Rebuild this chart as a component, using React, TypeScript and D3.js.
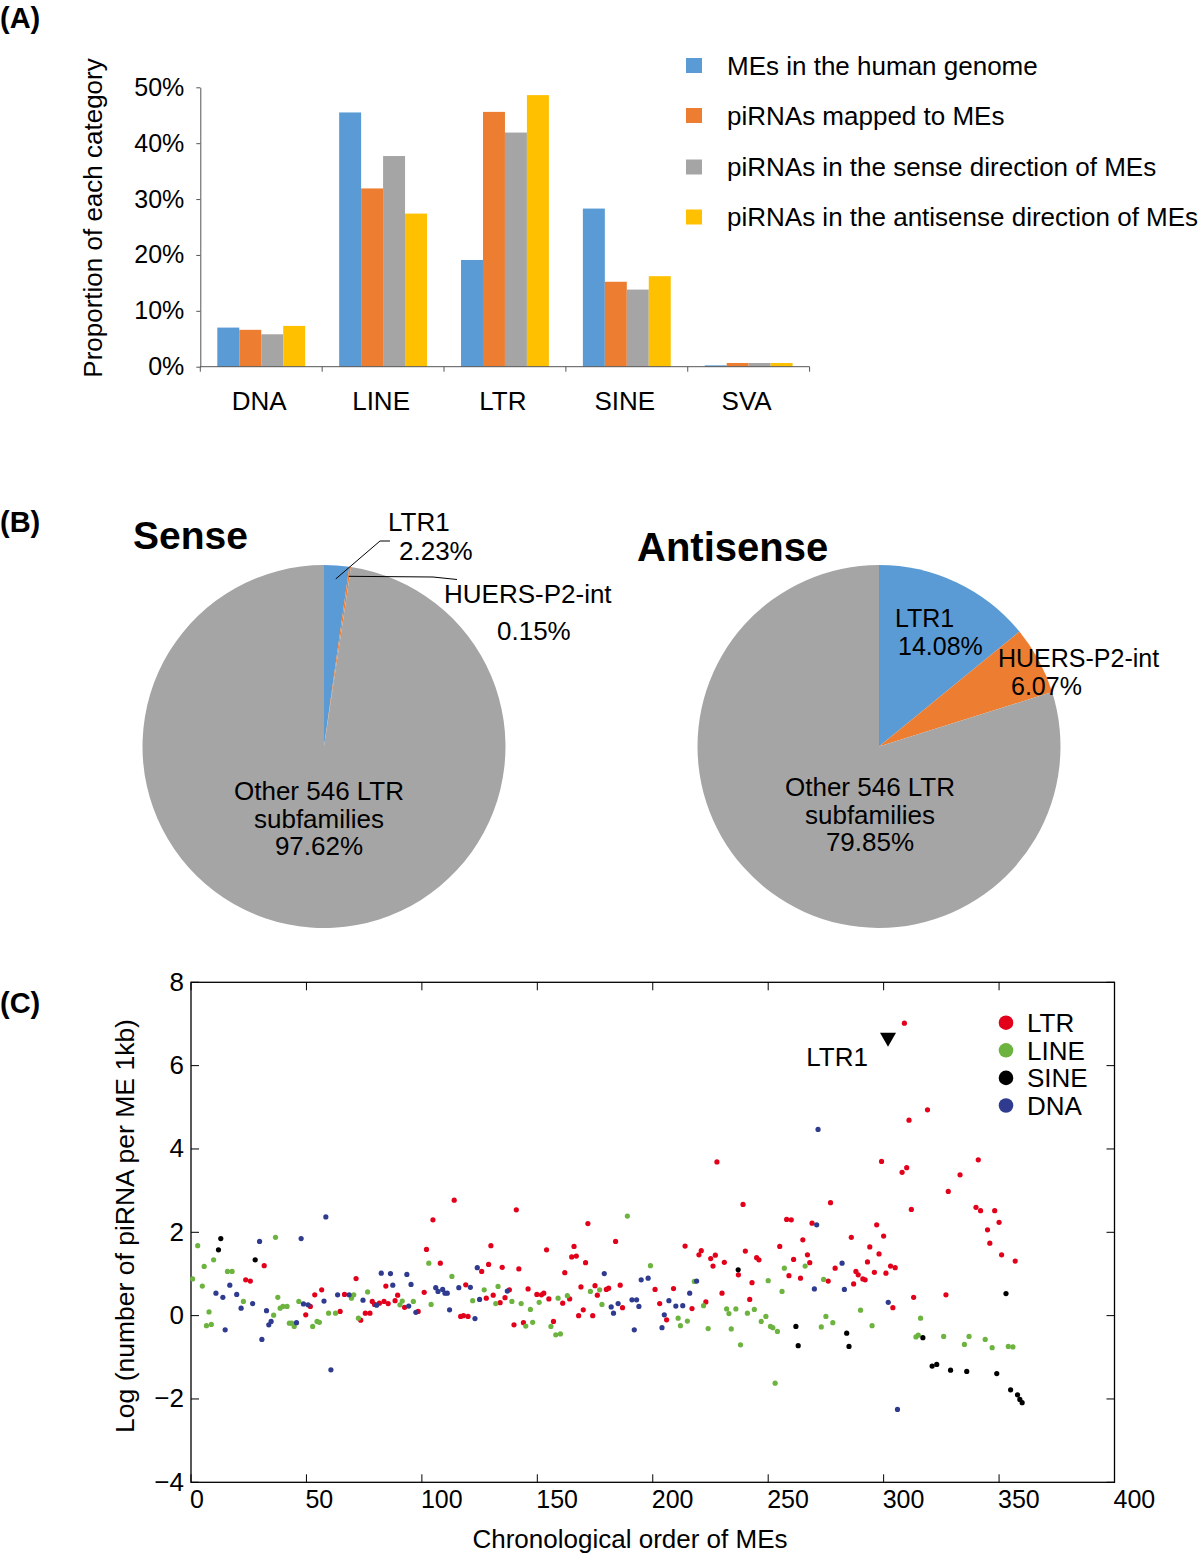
import React, { useRef, useEffect } from 'react';
import * as d3 from 'd3';

const FONT = '"Liberation Sans", Arial, Helvetica, sans-serif';

// ---- Panel A: proportion of each ME category ----
const categories = ['DNA', 'LINE', 'LTR', 'SINE', 'SVA'];
const barSeries = [
  'MEs in the human genome',
  'piRNAs mapped to MEs',
  'piRNAs in the sense direction of MEs',
  'piRNAs in the antisense direction of MEs',
];
const meGenome = [7.0, 45.5, 19.1, 28.3, 0.24];
const piMapped = [6.6, 31.9, 45.6, 15.2, 0.66];
const piSense = [5.8, 37.7, 41.9, 13.8, 0.66];
const piAntisense = [7.3, 27.4, 48.6, 16.2, 0.66];
const barColors = ['#5B9BD5', '#ED7D31', '#A5A5A5', '#FFC000'];
const pctTicks = [0, 10, 20, 30, 40, 50];

// ---- Panel B: LTR subfamily shares ----
const pieNames = ['LTR1', 'HUERS-P2-int', 'Other 546 LTR subfamilies'];
const senseShare = [2.23, 0.15, 97.62];
const antisenseShare = [14.08, 6.07, 79.85];
const pieColors = ['#5B9BD5', '#ED7D31', '#A5A5A5'];

// ---- Panel C: log piRNA per ME 1kb vs chronological order ----
const ltrPts: [number, number][] = [
  [23.7, 0.86], [25.7, 0.83], [31.7, 1.2], [49.7, 0.02], [51.7, 0.22], [53.6, 0.5], [56.6, 0.62],
  [64.6, 0.1], [66.5, 0.51], [71.5, 0.89], [73.5, -0.11], [75.5, 0.06], [77.5, 0.06], [78.5, 0.34],
  [79.5, 0.27], [81.6, 0.3], [83.6, 0.34], [84.4, 0.71], [85.4, 0.29], [88.4, 0.36], [89.5, 0.49],
  [92.5, 0.2], [98.4, 0.1],
  [101, 0.56], [102, 1.59], [104.8, 2.3], [108, 1.26], [114, 2.77], [119, 0.74], [116.8, -0.02],
  [118, 0.0], [120, -0.02], [125.9, 1.06], [127.9, 0.42], [128.9, 1.23], [129.9, 1.68], [130.9, 0.49],
  [133.9, 0.31], [134.8, 1.16], [136, 0.43], [137.9, 0.62], [139.9, -0.22], [140.9, 2.54], [142, 1.12],
  [144, -0.17], [146, 0.64], [149.8, 0.51], [151.8, 0.5], [152.8, 0.54], [154, 1.58], [155, 0.4],
  [157, -0.14], [161, 0.3], [161.9, 1.03], [164, 0.4], [164.9, 1.41], [166.9, 1.43], [165.9, 1.66],
  [167.9, 0.0], [168.9, 0.69], [169.9, 0.14], [170.9, 1.27], [171.9, 2.21], [174, 0.0], [175, 0.72],
  [176, 0.49], [179.9, 0.63], [180.9, 0.66], [183.9, 1.78], [185.9, 0.73], [186.9, 0.19], [201, 0.63],
  [203, 0.29], [206, -0.1],
  [209, 0.65], [214, 1.67], [217, 0.17], [220, 1.46], [221, 1.56], [223, 0.33], [225.1, 1.37],
  [226.1, 1.19], [227.1, 1.45], [227.8, 3.69], [230, 0.54], [231, 1.28], [237.1, 0.98], [239.1, 2.67],
  [240.1, 1.55], [242, 0.39], [243, 0.79], [245, 1.39], [246, 1.34], [255, 1.66], [258, 2.31],
  [260, 2.3], [259, 0.96], [261, 1.35], [264, 0.9], [265, 1.82], [267, 1.46], [268, 1.27], [269, 2.22],
  [276, 0.83], [277, 2.71], [279, 1.14], [286, 1.88], [287, 0.76], [288, 1.06], [289, 0.98],
  [291, 0.88], [292, 0.86], [293, 1.29], [294, 1.65], [296, 1.04], [297, 2.18], [298, 1.48],
  [309, 7.02], [319, 4.94], [311, 4.69], [299.1, 3.7], [308, 3.44], [310, 3.55], [341, 3.74],
  [333.1, 3.38], [328, 2.98], [312, 2.55], [340, 2.6], [342, 2.52], [348.1, 2.52], [350, 2.24],
  [345, 2.06], [346, 1.74], [351.1, 1.46], [357, 1.31], [300, 1.91], [303, 1.19], [305, 1.15],
  [301, 1.02], [313, 0.44], [327, 0.5], [304, 0.19],
];
const linePts: [number, number][] = [
  [0.7, 0.88], [2.9, 1.68], [4.9, 0.71], [5.7, 1.18], [6.7, -0.24], [7.8, 0.09], [8.8, -0.21],
  [9.8, 1.34], [15.8, 1.06], [17.8, 1.06], [22.7, 0.34], [36.6, 1.88], [35.8, 0.01], [37.6, 0.44],
  [38.6, 0.18], [39.8, 0.22], [41.6, 0.22], [42.6, -0.18], [43.6, -0.18], [44.7, -0.26], [46.7, 0.34],
  [52.7, -0.26], [54.6, -0.14], [55.6, -0.16], [59.6, 0.06], [62.6, 0.06], [69.5, 0.42], [70.5, 0.5],
  [72.5, -0.06], [76.5, 0.57], [90.5, 0.26], [91.5, 0.35], [96.3, 0.34],
  [103, 1.26], [104, 0.27], [113, 0.94], [122, 0.36], [127, 0.62], [132, 0.29], [133, 0.7], [139, 0.34],
  [143, 0.29], [145, -0.25], [147, 0.15], [148, -0.16], [150.8, 0.32], [155.9, -0.26], [158, -0.46],
  [160, -0.44], [159, 0.42], [163, 0.48], [173, 0.58], [177, 0.62], [178, 0.27], [189, 2.39], [199, 1.2],
  [211, -0.06], [212, -0.24], [215, -0.13], [218, 0.82], [222, 0.24], [224, -0.31], [232, 0.16],
  [233, 0.05], [234, -0.32], [236, 0.16], [238, -0.7], [241, 0.06], [244, 0.15], [247, -0.14],
  [249, -0.02], [250, 0.84], [251, -0.26], [252, -0.29], [253, -1.62], [254, -0.38], [256, 0.58],
  [257, 1.14], [266, 1.19], [273, -0.27], [274, 0.87], [275, -0.02], [278, -0.17], [290, 0.13],
  [295, -0.24],
  [316, -0.06], [314, -0.51], [315, -0.47], [326, -0.5], [337, -0.5], [335, -0.69], [344, -0.57],
  [347, -0.77], [354, -0.74], [356, -0.75],
];
const sinePts: [number, number][] = [
  [11.9, 1.58], [12.9, 1.85], [27.8, 1.34], [237, 1.1], [262, -0.26], [263, -0.72], [284, -0.42],
  [285, -0.74], [353, 0.53], [317, -0.53], [321, -1.21], [323, -1.17], [329, -1.31], [336, -1.34],
  [349, -1.39], [355, -1.78], [358, -1.9], [359, -2.01], [360, -2.09],
];
const dnaPts: [number, number][] = [
  [10.8, 0.54], [13.8, 0.44], [14.8, -0.34], [16.8, 0.73], [19.8, 0.51], [21.7, 0.18], [26.7, 0.29],
  [29.7, 1.78], [30.7, -0.57], [32.7, 0.12], [33.7, -0.22], [34.7, -0.14], [45.7, -0.17], [47.7, 1.85],
  [48.7, 0.28], [50.7, 0.26], [57.6, 0.35], [58.4, 2.37], [60.6, -1.3], [63.5, 0.5], [68.5, 0.5],
  [74.5, 0.37], [80.4, 0.25], [82.4, 1.02], [86.4, 1.01], [87.4, 0.73], [93.5, 0.99], [95.3, 0.75],
  [94.3, 0.23], [97.4, 0.08],
  [106, 0.67], [107, 0.58], [109, 0.63], [110, 0.54], [111, 0.54], [112, 0.14], [116, 0.67], [121, 0.68],
  [123, -0.07], [124, 1.15], [125, 0.39], [137, 0.59], [179, 1.01], [182, 0.21], [183, 0.06], [185, 0.29],
  [191, 0.38], [193, 0.38], [192, -0.34], [194, 0.22], [195, 0.86], [198, 0.9], [204, -0.29], [205, 0.02],
  [207, 0.36],
  [210, 0.23], [213, 0.24], [216, 0.54], [219, 0.83], [270, 0.64], [271, 2.18], [271.6, 4.47],
  [282, 1.26], [283, 0.63], [302, 0.32], [306, -2.25],
];
const scatterNames = ['LTR', 'LINE', 'SINE', 'DNA'];
const scatterColors = ['#E3001B', '#6CB33F', '#000000', '#2E3B8F'];
const xTicksC = [0, 50, 100, 150, 200, 250, 300, 350, 400];
const yTicksC = [-4, -2, 0, 2, 4, 6, 8];
const ltr1Marker: [number, number] = [301.9, 6.62];

export default function App() {
  const ref = useRef<SVGSVGElement>(null);

  useEffect(() => {
    const svg = d3.select(ref.current);
    svg.selectAll('*').remove();
    svg.style('font-family', FONT);

    // panel letters
    [['(A)', 28], ['(B)', 532], ['(C)', 1013]].forEach(([t, y]) => {
      svg.append('text').attr('x', 0).attr('y', y as number)
        .attr('font-size', 29).attr('font-weight', 'bold').text(t as string);
    });

    // ================= Panel A =================
    const barValues = [meGenome, piMapped, piSense, piAntisense];
    const x0 = d3.scaleBand().domain(categories).range([200.3, 809.6]);
    const x1 = d3.scaleBand().domain(barSeries).range([17, x0.bandwidth() - 17]);
    const yA = d3.scaleLinear().domain([0, 50]).range([366.7, 87.3]);
    const gA = svg.append('g');

    barSeries.forEach((s, si) => {
      gA.selectAll(null)
        .data(barValues[si])
        .enter()
        .append('rect')
        .attr('x', (_, ci) => (x0(categories[ci]) as number) + (x1(s) as number))
        .attr('y', d => yA(d))
        .attr('width', x1.bandwidth())
        .attr('height', d => yA(0) - yA(d))
        .attr('fill', barColors[si]);
    });

    // y axis
    const yAxisA = gA.append('g')
      .attr('transform', 'translate(200.3,0)')
      .call(d3.axisLeft(yA).tickValues(pctTicks).tickFormat(d => `${d}%`).tickSize(4).tickSizeOuter(0).tickPadding(12));
    yAxisA.selectAll('text').attr('font-size', 25).attr('font-family', FONT).attr('fill', '#000');
    yAxisA.selectAll('line,path').attr('stroke', '#555');

    // x axis
    gA.append('line').attr('x1', 200.3).attr('x2', 809.6).attr('y1', yA(0)).attr('y2', yA(0))
      .attr('stroke', '#555');
    const bounds = categories.map(c => x0(c) as number).concat([809.6]);
    gA.selectAll(null).data(bounds).enter().append('line')
      .attr('x1', d => d).attr('x2', d => d).attr('y1', yA(0)).attr('y2', yA(0) + 5)
      .attr('stroke', '#555');
    gA.selectAll(null).data(categories).enter().append('text')
      .attr('x', d => (x0(d) as number) + x0.bandwidth() / 2 - 2)
      .attr('y', 410).attr('text-anchor', 'middle').attr('font-size', 26).text(d => d);

    gA.append('text')
      .attr('transform', 'translate(102,218) rotate(-90)')
      .attr('text-anchor', 'middle').attr('font-size', 26)
      .text('Proportion of each category');

    // legend
    const legY = [65.5, 115.5, 167, 217];
    barSeries.forEach((s, i) => {
      gA.append('rect').attr('x', 686).attr('y', legY[i] - 7.5).attr('width', 16).attr('height', 15)
        .attr('fill', barColors[i]);
      gA.append('text').attr('x', 727).attr('y', legY[i] + 9).attr('font-size', 26).text(s);
    });

    // ================= Panel B =================
    const pie = d3.pie<number>().sort(null).value(d => d);
    const r = 181.5;
    const arc = d3.arc<d3.PieArcDatum<number>>().innerRadius(0).outerRadius(r);

    const drawPie = (cx: number, cy: number, values: number[]) => {
      const g = svg.append('g').attr('transform', `translate(${cx},${cy})`);
      const arcs = pie(values);
      g.selectAll('path').data(arcs).enter().append('path')
        .attr('d', arc).attr('fill', (_, i) => pieColors[i]);
      return { g, arcs };
    };
    const pointAt = (a: d3.PieArcDatum<number>, rad: number) => {
      const m = (a.startAngle + a.endAngle) / 2;
      return [rad * Math.sin(m), -rad * Math.cos(m)];
    };

    // sense
    const sense = drawPie(324, 746.5, senseShare);
    svg.append('text').attr('x', 133).attr('y', 549).attr('font-size', 39).attr('font-weight', 'bold').text('Sense');
    const p0 = pointAt(sense.arcs[0], 168);
    sense.g.append('polyline')
      .attr('points', `${p0[0]},${p0[1]} 56,-205.5 66,-205.5`)
      .attr('fill', 'none').attr('stroke', '#000').attr('stroke-width', 1);
    const p1 = pointAt(sense.arcs[1], 172);
    sense.g.append('polyline')
      .attr('points', `${p1[0]},${p1[1]} 109,-169.5 133,-167`)
      .attr('fill', 'none').attr('stroke', '#000').attr('stroke-width', 1);
    const sLab = svg.append('g').attr('font-size', 26);
    sLab.append('text').attr('x', 388).attr('y', 531).text(pieNames[0]);
    sLab.append('text').attr('x', 399).attr('y', 560).text(`${senseShare[0].toFixed(2)}%`);
    sLab.append('text').attr('x', 444).attr('y', 603).text(pieNames[1]);
    sLab.append('text').attr('x', 497).attr('y', 640).text(`${senseShare[1].toFixed(2)}%`);
    ['Other 546 LTR', 'subfamilies', `${senseShare[2].toFixed(2)}%`].forEach((t, i) => {
      sLab.append('text').attr('x', 319).attr('y', 800 + i * 27.5).attr('text-anchor', 'middle').text(t);
    });

    // antisense
    drawPie(879, 746.5, antisenseShare);
    svg.append('text').attr('x', 637).attr('y', 561).attr('font-size', 40).attr('font-weight', 'bold').text('Antisense');
    const aLab = svg.append('g').attr('font-size', 25);
    aLab.append('text').attr('x', 895).attr('y', 627).text(pieNames[0]);
    aLab.append('text').attr('x', 898).attr('y', 655).text(`${antisenseShare[0].toFixed(2)}%`);
    aLab.append('text').attr('x', 998).attr('y', 667).text(pieNames[1]);
    aLab.append('text').attr('x', 1011).attr('y', 695).text(`${antisenseShare[1].toFixed(2)}%`);
    ['Other 546 LTR', 'subfamilies', `${antisenseShare[2].toFixed(2)}%`].forEach((t, i) => {
      aLab.append('text').attr('x', 870).attr('y', 796 + i * 27.5).attr('text-anchor', 'middle')
        .attr('font-size', 26).text(t);
    });

    // ================= Panel C =================
    const xC = d3.scaleLinear().domain([0, 400]).range([191, 1114.5]);
    const yC = d3.scaleLinear().domain([-4, 8]).range([1482.3, 982.3]);
    const gC = svg.append('g');
    const tick = 8;
    const fmt = (v: number) => String(v).replace('-', '\u2212');

    gC.append('rect')
      .attr('x', xC(0)).attr('y', yC(8))
      .attr('width', xC(400) - xC(0)).attr('height', yC(-4) - yC(8))
      .attr('fill', 'none').attr('stroke', '#000').attr('stroke-width', 1.3);

    xTicksC.forEach(v => {
      gC.append('line').attr('x1', xC(v)).attr('x2', xC(v)).attr('y1', yC(-4)).attr('y2', yC(-4) - tick).attr('stroke', '#000');
      gC.append('line').attr('x1', xC(v)).attr('x2', xC(v)).attr('y1', yC(8)).attr('y2', yC(8) + tick).attr('stroke', '#000');
      gC.append('text').attr('x', xC(v) - 1).attr('y', 1508).attr('font-size', 25).text(v);
    });
    yTicksC.forEach(v => {
      gC.append('line').attr('x1', xC(0)).attr('x2', xC(0) + tick).attr('y1', yC(v)).attr('y2', yC(v)).attr('stroke', '#000');
      gC.append('line').attr('x1', xC(400)).attr('x2', xC(400) - tick).attr('y1', yC(v)).attr('y2', yC(v)).attr('stroke', '#000');
      gC.append('text').attr('x', 184).attr('y', yC(v) + 8.5).attr('text-anchor', 'end').attr('font-size', 26).text(fmt(v));
    });

    const groups = [ltrPts, linePts, sinePts, dnaPts];
    groups.forEach((pts, gi) => {
      gC.selectAll(null).data(pts).enter().append('circle')
        .attr('cx', d => xC(d[0])).attr('cy', d => yC(d[1])).attr('r', 2.6)
        .attr('fill', scatterColors[gi]);
    });

    // legend
    scatterNames.forEach((n, i) => {
      const cy = 1022.7 + i * 27.6;
      gC.append('circle').attr('cx', 1006).attr('cy', cy).attr('r', 7.3).attr('fill', scatterColors[i]);
      gC.append('text').attr('x', 1027).attr('y', cy + 9.5).attr('font-size', 26).text(n);
    });

    // LTR1 marker
    const mx = xC(ltr1Marker[0]);
    const my = yC(ltr1Marker[1]);
    gC.append('path').attr('d', `M${mx - 8},${my - 7}L${mx + 8},${my - 7}L${mx},${my + 7}Z`).attr('fill', '#000');
    gC.append('text').attr('x', mx - 20).attr('y', my + 26).attr('text-anchor', 'end').attr('font-size', 26).text('LTR1');

    gC.append('text').attr('x', 630).attr('y', 1548).attr('text-anchor', 'middle').attr('font-size', 26)
      .text('Chronological order of MEs');
    gC.append('text').attr('transform', 'translate(134,1226) rotate(-90)').attr('text-anchor', 'middle')
      .attr('font-size', 26.5).text('Log (number of piRNA per ME 1kb)');
  }, []);

  return (
    <svg ref={ref} width={1200} height={1557}
      style={{ position: 'absolute', left: 0, top: 0, background: '#fff' }} />
  );
}
